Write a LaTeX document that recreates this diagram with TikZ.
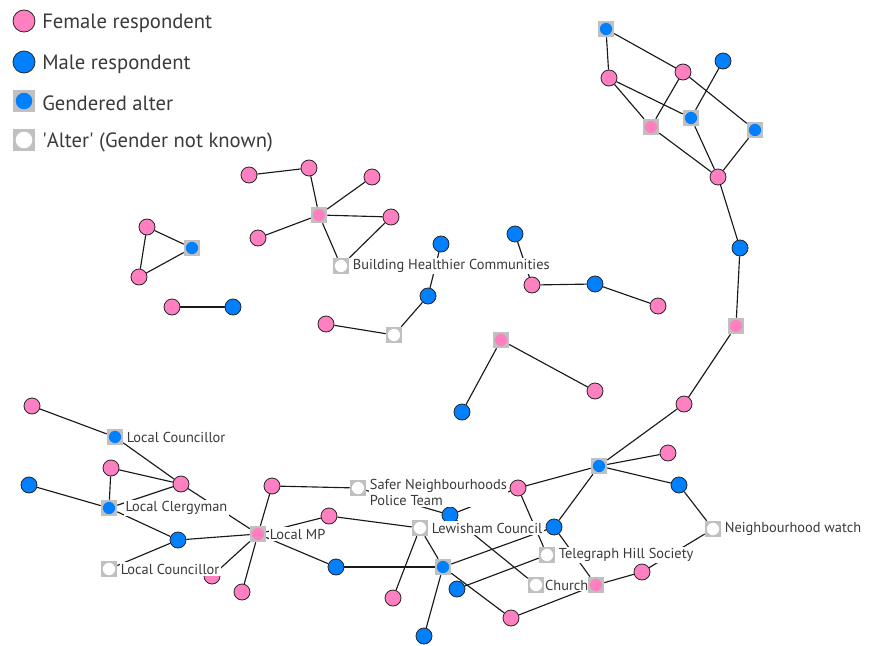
\documentclass[tikz,border=0pt]{standalone}
\usepackage{fontspec}
\setmainfont{PT Sans}
\usetikzlibrary{positioning,backgrounds}

\definecolor{fempink}{HTML}{FF80C0}
\definecolor{malblue}{HTML}{0080FF}
\definecolor{altgray}{HTML}{C0C0C0}
\definecolor{labtext}{HTML}{3A3A3A}

\tikzset{
  fem/.style={circle, draw=black!85, line width=0.6pt, fill=fempink,
    minimum size=12pt, inner sep=0pt},
  mal/.style={fem, fill=malblue},
  galt/.style={rectangle, fill=altgray, minimum size=12pt, inner sep=0pt,
    path picture={\fill[#1] (path picture bounding box.center) circle (4.6pt);}},
  ualt/.style={galt=white},
  keyalt/.style={rectangle, fill=altgray, minimum size=17pt, inner sep=0pt,
    path picture={\fill[#1] (path picture bounding box.center) circle (6.2pt);}},
  lab/.style={fill=white, text=labtext, font=\fontsize{10.8}{12}\selectfont,
    inner sep=1pt, anchor=west},
  keytext/.style={text=labtext, font=\fontsize{15.5}{18}\selectfont,
    inner sep=0pt, anchor=west},
  tie/.style={draw=black!90, line width=0.85pt}
}

\begin{document}
\begin{tikzpicture}[x=0.75pt,y=-0.75pt]
    \useasboundingbox (0,0) rectangle (875,646);

    % legend
    \node[fem, minimum size=16.5pt] (k1) at (24,21) {};
    \node[mal, minimum size=16.5pt] (k2) at (24,62) {};
    \node[keyalt=malblue] (k3) at (24,101) {};
    \node[keyalt=white] (k4) at (24,140) {};
    \node[keytext] at (42,23) {Female respondent};
    \node[keytext] at (42,64) {Male respondent};
    \node[keytext] at (42,103) {Gendered alter};
    \node[keytext] at (42,142) {\textquotesingle Alter\textquotesingle\ (Gender not known)};

    % female respondents
    \foreach \n/\x/\y in {f1/609/78, f2/683/72, f3/718/177, f4/684/404,
        f5/668/453, f6/642/572, f7/518/488, f8/329/516, f9/393/598,
        f10/511/618, f11/272/486, f12/242/592, f13/181/484, f14/212/576,
        f15/32/406, f16/111/468, f17/147/227, f18/139/277, f19/172/307,
        f20/249/175, f21/309/168, f22/372/177, f23/391/217, f24/258/238,
        f25/326/324, f26/532/285, f27/658/306, f28/595/391}
        \node[fem] (\n) at (\x,\y) {};

    % male respondents
    \foreach \n/\x/\y in {m1/723/61, m2/740/248, m3/679/485, m4/554/527,
        m5/457/589, m6/450/515, m7/336/567, m8/424/636, m9/178/540,
        m10/29/485, m11/233/307, m12/441/244, m13/428/296, m14/515/234,
        m15/595/284, m16/462/412}
        \node[mal] (\n) at (\x,\y) {};

    % alters, gender not known
    \foreach \n/\x/\y in {u1/713/529, u2/547/555, u3/536/585, u4/420/528,
        u5/358/488, u6/109/569, u7/341/266, u8/394/335}
        \node[ualt] (\n) at (\x,\y) {};

    % labels
    \node[lab, right=1.5pt of u7] (l-bhc) {Building Healthier Communities};
    \node[lab, right=1.5pt of u6] (l-lc2) {Local Councillor};
    \node[lab, anchor=north west, align=left, inner sep=1pt]
        (l-snt) at ([xshift=1.5pt,yshift=7.5pt]u5.east)
        {Safer Neighbourhoods\\Police Team};
    \node[lab, right=1.5pt of u4] (l-lew) {Lewisham Council};
    \node[lab, right=1.5pt of u2] (l-ths) {Telegraph Hill Society};
    \node[lab, right=0pt of u3, inner sep=0.5pt] (l-ch) {Church};
    \node[lab, right=1.5pt of u1] (l-nw) {Neighbourhood watch};

    % gendered alters (drawn over the labels)
    \foreach \n/\x/\y/\c in {g1/606/29/malblue, g2/651/127/fempink,
        g3/691/118/malblue, g4/755/130/malblue, g5/736/326/fempink,
        g6/599/466/malblue, g7/596/585/fempink, g8/443/567/malblue,
        g9/258/534/fempink, g10/115/437/malblue, g11/109/508/malblue,
        g12/192/248/malblue, g13/319/215/fempink, g14/501/340/fempink}
        \node[galt=\c] (\n) at (\x,\y) {};

    \node[lab, right=1.5pt of g10] (l-lc1) {Local Councillor};
    \node[lab, right=5pt of g11] (l-cl) {Local Clergyman};
    \node[lab, right=1.5pt of g9] (l-mp) {Local MP};

    % ties
    \begin{scope}[on background layer]
        \foreach \a/\b in {g1/f1, g1/f2, f1/g2, f1/g3, f2/g2, f2/g4, m1/g3,
            g3/f3, g2/f3, g4/f3, f3/m2, m2/g5, g5/f4, f4/g6, g6/f5, g6/m3,
            m3/u1, u1/f6, f6/g7, g6/f7, g6/m4, m4/g7, f7/u2, u2/m5, m6/f7,
            u5/m6, m6/u3, g8/m4, f8/u4, u4/f9, u4/g8, g8/m7, m7/g9, g8/m8,
            g8/f10, f10/g7, g9/f11, g9/f12, g9/m9, g9/f13, g9/f8, g9/f14,
            f11/u5, f15/g10, g10/f13, f16/f13, f16/g11, g11/f13, m10/g11,
            g11/m9, m9/u6, f17/f18, f17/g12, f18/g12, f19/m11, f20/f21,
            f21/g13, g13/f22, g13/f23, g13/f24, g13/u7, f23/u7, m12/m13,
            m13/u8, u8/f25, m14/f26, f26/m15, m15/f27, g14/m16, g14/f28}
            \draw[tie] (\a) -- (\b);
    \end{scope}
\end{tikzpicture}
\end{document}
